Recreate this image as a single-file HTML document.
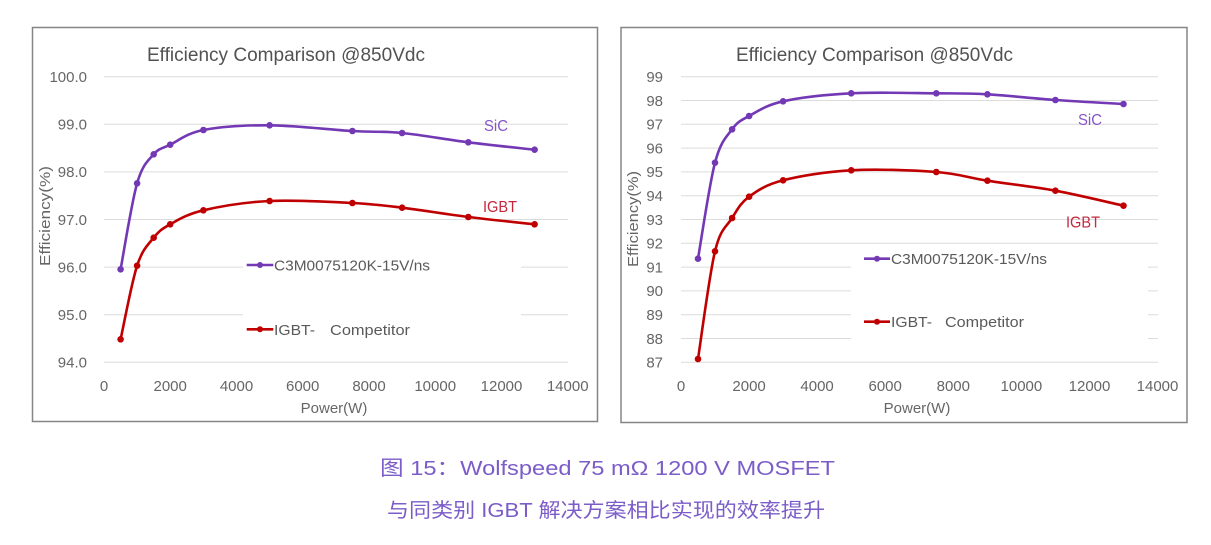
<!DOCTYPE html>
<html>
<head>
<meta charset="utf-8">
<style>
  html,body{margin:0;padding:0;background:#fff;}
  svg{display:block;}
  text{font-family:"Liberation Sans","Noto Sans CJK SC",sans-serif;}
</style>
</head>
<body>
<svg width="1211" height="545" viewBox="0 0 1211 545" xmlns="http://www.w3.org/2000/svg">
  <rect x="0" y="0" width="1211" height="545" fill="#ffffff"/>

  <!-- ============ LEFT CHART ============ -->
  <rect x="32.5" y="27.5" width="565" height="394" fill="#fff" stroke="#858585" stroke-width="1.5"/>
  <g stroke="#dcdcdc" stroke-width="1">
    <line x1="104" y1="76.7" x2="568" y2="76.7"/>
    <line x1="104" y1="124.3" x2="568" y2="124.3"/>
    <line x1="104" y1="171.9" x2="568" y2="171.9"/>
    <line x1="104" y1="219.5" x2="568" y2="219.5"/>
    <line x1="104" y1="267.1" x2="568" y2="267.1"/>
    <line x1="104" y1="314.7" x2="568" y2="314.7"/>
    <line x1="104" y1="362.3" x2="568" y2="362.3"/>
  </g>
  <rect x="243" y="245" width="278" height="102" fill="#fff"/>

  <text x="147" y="61" font-size="19" fill="#525252" textLength="278" lengthAdjust="spacingAndGlyphs">Efficiency Comparison @850Vdc</text>

  <g font-size="15" fill="#666666" text-anchor="end">
    <text x="87" y="82">100.0</text>
    <text x="87" y="129.6">99.0</text>
    <text x="87" y="177.2">98.0</text>
    <text x="87" y="224.8">97.0</text>
    <text x="87" y="272.4">96.0</text>
    <text x="87" y="320">95.0</text>
    <text x="87" y="367.6">94.0</text>
  </g>
  <g font-size="15" fill="#666666" text-anchor="middle">
    <text x="104" y="391">0</text>
    <text x="170.2" y="391">2000</text>
    <text x="236.5" y="391">4000</text>
    <text x="302.7" y="391">6000</text>
    <text x="369" y="391">8000</text>
    <text x="435.2" y="391">10000</text>
    <text x="501.5" y="391">12000</text>
    <text x="567.7" y="391">14000</text>
  </g>
  <text x="334" y="413" font-size="15" fill="#666666" text-anchor="middle">Power(W)</text>
  <text transform="translate(50,216) rotate(-90)" font-size="15" fill="#666666" text-anchor="middle" textLength="100" lengthAdjust="spacingAndGlyphs">Efficiency(%)</text>

  <!-- left SiC -->
  <path d="M120.6,269.3 C123.35,254.97 131.58,202.47 137.1,183.3 C142.62,164.13 148.18,160.73 153.7,154.3 C159.22,147.87 161.92,148.75 170.2,144.7 C178.48,140.65 186.83,133.23 203.4,130 C219.97,126.77 244.77,125.13 269.6,125.3 C294.43,125.47 330.32,129.72 352.4,131 C374.48,132.28 382.78,131.12 402.1,133 C421.42,134.88 446.22,139.52 468.3,142.3 C490.38,145.08 523.55,148.47 534.6,149.7" fill="none" stroke="#7338b4" stroke-width="2.6"/>
  <g fill="#7338b4">
    <circle cx="120.6" cy="269.3" r="3.3"/><circle cx="137.1" cy="183.3" r="3.3"/><circle cx="153.7" cy="154.3" r="3.3"/><circle cx="170.2" cy="144.7" r="3.3"/><circle cx="203.4" cy="130" r="3.3"/><circle cx="269.6" cy="125.3" r="3.3"/><circle cx="352.4" cy="131" r="3.3"/><circle cx="402.1" cy="133" r="3.3"/><circle cx="468.3" cy="142.3" r="3.3"/><circle cx="534.6" cy="149.7" r="3.3"/>
  </g>
  <!-- left IGBT -->
  <path d="M120.6,339.3 C123.35,327.03 131.58,282.63 137.1,265.7 C142.62,248.77 148.18,244.6 153.7,237.7 C159.22,230.8 161.92,228.87 170.2,224.3 C178.48,219.73 186.83,214.18 203.4,210.3 C219.97,206.42 244.77,202.22 269.6,201 C294.43,199.78 330.32,201.88 352.4,203 C374.48,204.12 382.78,205.37 402.1,207.7 C421.42,210.03 446.22,214.23 468.3,217 C490.38,219.77 523.55,223.08 534.6,224.3" fill="none" stroke="#c00000" stroke-width="2.6"/>
  <g fill="#c00000">
    <circle cx="120.6" cy="339.3" r="3.3"/><circle cx="137.1" cy="265.7" r="3.3"/><circle cx="153.7" cy="237.7" r="3.3"/><circle cx="170.2" cy="224.3" r="3.3"/><circle cx="203.4" cy="210.3" r="3.3"/><circle cx="269.6" cy="201" r="3.3"/><circle cx="352.4" cy="203" r="3.3"/><circle cx="402.1" cy="207.7" r="3.3"/><circle cx="468.3" cy="217" r="3.3"/><circle cx="534.6" cy="224.3" r="3.3"/>
  </g>

  <text x="484" y="131" font-size="16" fill="#8656c6" textLength="24" lengthAdjust="spacingAndGlyphs">SiC</text>
  <text x="483" y="212" font-size="16" fill="#c4283c" textLength="34" lengthAdjust="spacingAndGlyphs">IGBT</text>

  <!-- left legend -->
  <line x1="246.7" y1="265" x2="273.3" y2="265" stroke="#7338b4" stroke-width="2.6"/>
  <circle cx="260" cy="265" r="3" fill="#7338b4"/>
  <text x="274" y="270.5" font-size="15" fill="#5a5a5a" textLength="156" lengthAdjust="spacingAndGlyphs">C3M0075120K-15V/ns</text>
  <line x1="246.7" y1="329.3" x2="273.3" y2="329.3" stroke="#c00000" stroke-width="2.6"/>
  <circle cx="260" cy="329.3" r="3" fill="#c00000"/>
  <text x="274" y="334.8" font-size="15" fill="#5a5a5a" textLength="41" lengthAdjust="spacingAndGlyphs">IGBT-</text>
  <text x="330" y="334.8" font-size="15" fill="#5a5a5a" textLength="80" lengthAdjust="spacingAndGlyphs">Competitor</text>

  <!-- ============ RIGHT CHART ============ -->
  <rect x="621" y="27.5" width="566" height="395" fill="#fff" stroke="#858585" stroke-width="1.5"/>
  <g stroke="#dcdcdc" stroke-width="1">
    <line x1="681" y1="76.7" x2="1158" y2="76.7"/>
    <line x1="681" y1="100.5" x2="1158" y2="100.5"/>
    <line x1="681" y1="124.3" x2="1158" y2="124.3"/>
    <line x1="681" y1="148.1" x2="1158" y2="148.1"/>
    <line x1="681" y1="171.9" x2="1158" y2="171.9"/>
    <line x1="681" y1="195.7" x2="1158" y2="195.7"/>
    <line x1="681" y1="219.5" x2="1158" y2="219.5"/>
    <line x1="681" y1="243.3" x2="1158" y2="243.3"/>
    <line x1="681" y1="267.1" x2="1158" y2="267.1"/>
    <line x1="681" y1="290.9" x2="1158" y2="290.9"/>
    <line x1="681" y1="314.7" x2="1158" y2="314.7"/>
    <line x1="681" y1="338.5" x2="1158" y2="338.5"/>
    <line x1="681" y1="362.3" x2="1158" y2="362.3"/>
  </g>
  <rect x="851" y="252" width="297" height="98" fill="#fff"/>

  <text x="736" y="61" font-size="19" fill="#525252" textLength="277" lengthAdjust="spacingAndGlyphs">Efficiency Comparison @850Vdc</text>

  <g font-size="15" fill="#666666" text-anchor="end">
    <text x="663" y="82">99</text>
    <text x="663" y="105.8">98</text>
    <text x="663" y="129.6">97</text>
    <text x="663" y="153.4">96</text>
    <text x="663" y="177.2">95</text>
    <text x="663" y="201">94</text>
    <text x="663" y="224.8">93</text>
    <text x="663" y="248.6">92</text>
    <text x="663" y="272.4">91</text>
    <text x="663" y="296.2">90</text>
    <text x="663" y="320">89</text>
    <text x="663" y="343.8">88</text>
    <text x="663" y="367.6">87</text>
  </g>
  <g font-size="15" fill="#666666" text-anchor="middle">
    <text x="681" y="391">0</text>
    <text x="749.1" y="391">2000</text>
    <text x="817.1" y="391">4000</text>
    <text x="885.2" y="391">6000</text>
    <text x="953.3" y="391">8000</text>
    <text x="1021.4" y="391">10000</text>
    <text x="1089.5" y="391">12000</text>
    <text x="1157.5" y="391">14000</text>
  </g>
  <text x="917" y="413" font-size="15" fill="#666666" text-anchor="middle">Power(W)</text>
  <text transform="translate(638,219) rotate(-90)" font-size="15" fill="#666666" text-anchor="middle" textLength="96" lengthAdjust="spacingAndGlyphs">Efficiency(%)</text>

  <!-- right SiC -->
  <path d="M698,258.7 C700.83,242.7 709.32,184.27 715,162.7 C720.68,141.13 726.42,137.08 732.1,129.3 C737.78,121.52 740.6,120.67 749.1,116 C757.6,111.33 766.08,105.08 783.1,101.3 C800.12,97.52 825.67,94.63 851.2,93.3 C876.73,91.97 913.6,93.13 936.3,93.3 C959,93.47 967.55,93.18 987.4,94.3 C1007.25,95.42 1032.72,98.38 1055.4,100 C1078.08,101.62 1112.15,103.33 1123.5,104" fill="none" stroke="#7338b4" stroke-width="2.6"/>
  <g fill="#7338b4">
    <circle cx="698" cy="258.7" r="3.3"/><circle cx="715" cy="162.7" r="3.3"/><circle cx="732.1" cy="129.3" r="3.3"/><circle cx="749.1" cy="116" r="3.3"/><circle cx="783.1" cy="101.3" r="3.3"/><circle cx="851.2" cy="93.3" r="3.3"/><circle cx="936.3" cy="93.3" r="3.3"/><circle cx="987.4" cy="94.3" r="3.3"/><circle cx="1055.4" cy="100" r="3.3"/><circle cx="1123.5" cy="104" r="3.3"/>
  </g>
  <!-- right IGBT -->
  <path d="M698,359 C700.83,341.05 709.32,274.8 715,251.3 C720.68,227.8 726.42,227.1 732.1,218 C737.78,208.9 740.6,202.98 749.1,196.7 C757.6,190.42 766.08,184.7 783.1,180.3 C800.12,175.9 825.67,171.68 851.2,170.3 C876.73,168.92 913.6,170.27 936.3,172 C959,173.73 967.55,177.58 987.4,180.7 C1007.25,183.82 1032.72,186.53 1055.4,190.7 C1078.08,194.87 1112.15,203.2 1123.5,205.7" fill="none" stroke="#c00000" stroke-width="2.6"/>
  <g fill="#c00000">
    <circle cx="698" cy="359" r="3.3"/><circle cx="715" cy="251.3" r="3.3"/><circle cx="732.1" cy="218" r="3.3"/><circle cx="749.1" cy="196.7" r="3.3"/><circle cx="783.1" cy="180.3" r="3.3"/><circle cx="851.2" cy="170.3" r="3.3"/><circle cx="936.3" cy="172" r="3.3"/><circle cx="987.4" cy="180.7" r="3.3"/><circle cx="1055.4" cy="190.7" r="3.3"/><circle cx="1123.5" cy="205.7" r="3.3"/>
  </g>

  <text x="1078" y="125" font-size="16" fill="#8656c6" textLength="24" lengthAdjust="spacingAndGlyphs">SiC</text>
  <text x="1066" y="227.5" font-size="16" fill="#c4283c" textLength="34" lengthAdjust="spacingAndGlyphs">IGBT</text>

  <!-- right legend -->
  <line x1="864" y1="258.7" x2="890" y2="258.7" stroke="#7338b4" stroke-width="2.6"/>
  <circle cx="877" cy="258.7" r="3" fill="#7338b4"/>
  <text x="891" y="264.2" font-size="15" fill="#5a5a5a" textLength="156" lengthAdjust="spacingAndGlyphs">C3M0075120K-15V/ns</text>
  <line x1="864" y1="321.7" x2="890" y2="321.7" stroke="#c00000" stroke-width="2.6"/>
  <circle cx="877" cy="321.7" r="3" fill="#c00000"/>
  <text x="891" y="327.2" font-size="15" fill="#5a5a5a" textLength="41" lengthAdjust="spacingAndGlyphs">IGBT-</text>
  <text x="945" y="327.2" font-size="15" fill="#5a5a5a" textLength="79" lengthAdjust="spacingAndGlyphs">Competitor</text>

  <!-- ============ CAPTION ============ -->
  <text x="380" y="475" font-size="20.5" fill="#7b5cc8" textLength="455" lengthAdjust="spacingAndGlyphs" style="font-family:'Liberation Sans','Noto Sans CJK SC',sans-serif;">图 15：Wolfspeed 75 mΩ 1200 V MOSFET</text>
  <text x="387" y="517" font-size="20" fill="#7b5cc8" textLength="438" lengthAdjust="spacingAndGlyphs" style="font-family:'Liberation Sans','Noto Sans CJK SC',sans-serif;">与同类别 IGBT 解决方案相比实现的效率提升</text>
</svg>
</body>
</html>
